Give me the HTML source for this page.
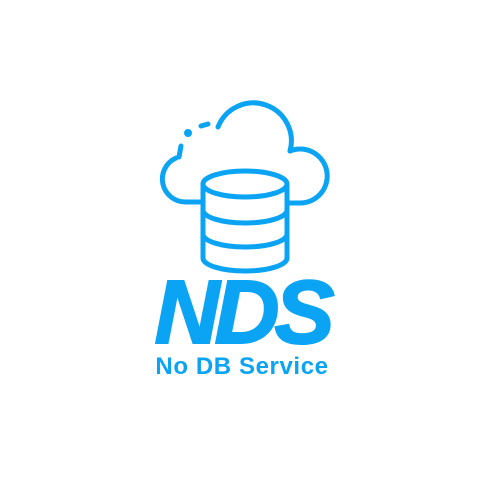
<!DOCTYPE html>
<html><head><style>
html,body{margin:0;padding:0;background:#fff;width:484px;height:493px;overflow:hidden}
.nds{position:absolute;left:0;width:484px;text-align:center;top:263px;font:italic 900 90px "Liberation Sans",sans-serif;color:#0ba4f5;letter-spacing:-5px;line-height:100px;-webkit-text-stroke:2px #0ba4f5}
.sub{position:absolute;left:0;width:484px;text-align:center;top:353px;font:bold 24px "Liberation Sans",sans-serif;color:#0ba4f5;letter-spacing:0.6px}
</style></head><body>
<svg width="484" height="493" style="position:absolute;left:0;top:0" fill="none" stroke="#0ba4f5" stroke-width="5" stroke-linecap="round">
<path d="M200 202 H186 A23 23 0 0 1 176 158"/>
<path d="M181 146 L179 157"/>
<circle cx="188" cy="133" r="1.5" fill="#0ba4f5"/>
<path d="M201 126 L208 124"/>
<path d="M218 127 A38 38 0 0 1 290 151"/>
<path d="M290 151 A27 27 0 1 1 300 203 H288"/>
<ellipse cx="245" cy="184" rx="42" ry="13"/>
<path d="M203 184 V258 A42 13 0 0 0 287 258 V184"/>
<path d="M203 210 A42 13 0 0 0 287 210"/>
<path d="M203 234 A42 13 0 0 0 287 234"/>
</svg>
<div class="nds">NDS</div>
<div class="sub">No DB Service</div>
</body></html>
